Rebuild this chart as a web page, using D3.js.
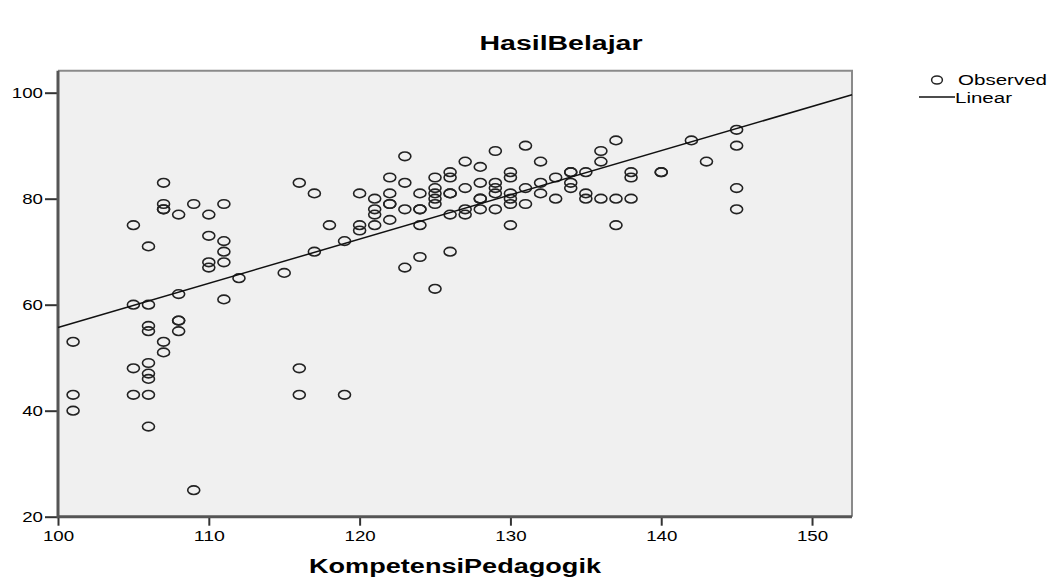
<!DOCTYPE html>
<html>
<head>
<meta charset="utf-8">
<script src="https://cdn.jsdelivr.net/npm/d3@7"></script>
<style>
  body { margin: 0; background: #fff; }
  text { font-family: "Liberation Sans", Arial, sans-serif; fill: #000; }
</style>
</head>
<body>
<div id="chart"></div>
<script>
// Observed points (KompetensiPedagogik, HasilBelajar)
var xVals = [101,101,101, 105,105,105,105, 106,106,106,106,106,106,106,106,106,
    107,107,107,107,107,107, 108,108,108,108,108, 109,109, 110,110,110,110,
    111,111,111,111,111, 112, 115, 116,116,116, 117,117, 118, 119,119,
    120,120,120, 121,121,121,121, 122,122,122,122,122, 123,123,123,123,
    124,124,124,124,124, 125,125,125,125,125,125, 126,126,126,126,126,126,
    127,127,127,127, 128,128,128,128,128, 129,129,129,129,129,
    130,130,130,130,130,130, 131,131,131, 132,132,132, 133,133,
    134,134,134,134, 135,135,135, 136,136,136, 137,137,137, 138,138,138,
    140,140, 142, 143, 145,145,145,145];
var yVals = [53,43,40, 75,60,48,43, 71,60,56,55,49,47,46,43,37,
    83,79,78,78,53,51, 77,62,57,57,55, 79,25, 77,73,68,67,
    79,72,70,68,61, 65, 66, 83,48,43, 81,70, 75, 72,43,
    81,75,74, 80,78,77,75, 84,81,79,79,76, 88,83,78,67,
    81,78,78,75,69, 84,82,81,80,79,63, 85,84,81,81,77,70,
    87,82,78,77, 86,83,80,80,78, 89,83,82,81,78,
    85,84,81,80,79,75, 90,82,79, 87,83,81, 84,80,
    85,85,83,82, 85,81,80, 89,87,80, 91,80,75, 85,84,80,
    85,85, 91, 87, 93,90,82,78];

// Linear fit as drawn in the picture
var fitIntercept = -27.7;
var fitSlope = 0.834;

var xTicks = [100, 110, 120, 130, 140, 150];
var yTicks = [20, 40, 60, 80, 100];
var xDomain = [100, 152.65];
var yDomain = [20, 104.15];

var width = 1050, height = 578;
var plot = { left: 58, right: 852, top: 70.7, bottom: 516.7 };

var svg = d3.select("#chart")
    .append("svg")
    .attr("width", width)
    .attr("height", height);

var x = d3.scaleLinear().domain(xDomain).range([plot.left, plot.right]);
var y = d3.scaleLinear().domain(yDomain).range([plot.bottom, plot.top]);

// plot background
svg.append("rect")
    .attr("x", plot.left)
    .attr("y", plot.top)
    .attr("width", plot.right - plot.left)
    .attr("height", plot.bottom - plot.top)
    .attr("fill", "#f0f0f0");

// top and right frame
svg.append("path")
    .attr("d", "M" + plot.left + "," + plot.top + "H" + plot.right + "V" + plot.bottom)
    .attr("fill", "none")
    .attr("stroke", "#8a8a8a")
    .attr("stroke-width", 2);

// axes
var xAxis = svg.append("g")
    .attr("transform", "translate(0," + plot.bottom + ")")
    .call(d3.axisBottom(x).tickValues(xTicks).tickSize(9).tickPadding(5).tickFormat(d3.format("d")));

var yAxis = svg.append("g")
    .attr("transform", "translate(" + plot.left + ",0)")
    .call(d3.axisLeft(y).tickValues(yTicks).tickSize(13).tickPadding(2).tickFormat(d3.format("d")));

[xAxis, yAxis].forEach(function(g) {
    g.select(".domain").remove();
    g.selectAll(".tick line").attr("stroke", "#333").attr("stroke-width", 2);
    g.selectAll(".tick text")
        .attr("font-size", 14)
        .attr("font-family", "Liberation Sans, Arial, sans-serif")
        .attr("fill", "#000")
        .attr("lengthAdjust", "spacingAndGlyphs")
        .attr("textLength", function(d) { return String(d).length * 10.4; });
});

// left and bottom axis lines
svg.append("path")
    .attr("d", "M" + plot.left + "," + plot.top + "V" + plot.bottom + "H" + plot.right)
    .attr("fill", "none")
    .attr("stroke", "#555")
    .attr("stroke-width", 3);

// observed points
var points = xVals.map(function(v, i) { return { x: v, y: yVals[i] }; });

svg.append("g")
    .selectAll("ellipse")
    .data(points)
    .enter()
    .append("ellipse")
    .attr("cx", d => x(d.x))
    .attr("cy", d => y(d.y))
    .attr("rx", 6)
    .attr("ry", 4.3)
    .attr("fill", "none")
    .attr("stroke", "#222")
    .attr("stroke-width", 1.6);

// linear fit line across the plot
svg.append("line")
    .attr("x1", x(xDomain[0]))
    .attr("y1", y(fitIntercept + fitSlope * xDomain[0]))
    .attr("x2", x(xDomain[1]))
    .attr("y2", y(fitIntercept + fitSlope * xDomain[1]))
    .attr("stroke", "#111")
    .attr("stroke-width", 1.5);

// title
svg.append("text")
    .attr("x", 561)
    .attr("y", 50)
    .attr("text-anchor", "middle")
    .attr("font-size", 20)
    .attr("font-weight", "bold")
    .attr("lengthAdjust", "spacingAndGlyphs")
    .attr("textLength", 163)
    .text("HasilBelajar");

// x axis title
svg.append("text")
    .attr("x", (plot.left + plot.right) / 2)
    .attr("y", 573)
    .attr("text-anchor", "middle")
    .attr("font-size", 19.5)
    .attr("font-weight", "bold")
    .attr("lengthAdjust", "spacingAndGlyphs")
    .attr("textLength", 292)
    .text("KompetensiPedagogik");

// legend
var legend = svg.append("g");

legend.append("ellipse")
    .attr("cx", 937)
    .attr("cy", 80)
    .attr("rx", 5.4)
    .attr("ry", 4)
    .attr("fill", "none")
    .attr("stroke", "#222")
    .attr("stroke-width", 1.5);

legend.append("text")
    .attr("x", 958)
    .attr("y", 85)
    .attr("font-size", 14)
    .attr("lengthAdjust", "spacingAndGlyphs")
    .attr("textLength", 89)
    .text("Observed");

legend.append("line")
    .attr("x1", 919)
    .attr("x2", 955)
    .attr("y1", 97)
    .attr("y2", 97)
    .attr("stroke", "#111")
    .attr("stroke-width", 1.5);

legend.append("text")
    .attr("x", 955)
    .attr("y", 103)
    .attr("font-size", 14)
    .attr("lengthAdjust", "spacingAndGlyphs")
    .attr("textLength", 57)
    .text("Linear");
</script>
</body>
</html>
